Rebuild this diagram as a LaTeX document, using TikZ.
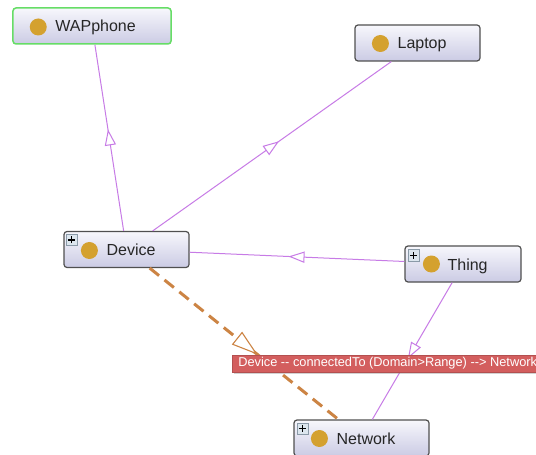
\documentclass[tikz,border=0pt]{standalone}
\usepackage{fontspec}
\setmainfont{Liberation Sans}
\newfontfamily\labfont{Liberation Sans}
\usetikzlibrary{decorations.markings,shadows}
\definecolor{edgepurple}{HTML}{C77BE6}
\definecolor{edgeorange}{HTML}{CC8444}
\definecolor{boxtop}{HTML}{F7F7FC}
\definecolor{boxbot}{HTML}{CBCBE4}
\definecolor{boxline}{HTML}{505050}
\definecolor{gold}{HTML}{D4A12F}
\definecolor{wapgreen}{HTML}{66DD66}
\definecolor{labred}{HTML}{D35E5E}
\definecolor{plusfill}{HTML}{DCE6EE}
\definecolor{plusline}{HTML}{8A9AA8}
\begin{document}
\begin{tikzpicture}[x=1bp,y=-1bp,
  cls/.style={draw=boxline, line width=1.2bp, rounded corners=3bp, top color=boxtop, bottom color=boxbot, inner sep=0pt, minimum height=36bp},
  clstext/.style={anchor=base west, inner sep=0pt, text=black!85, font=\fontsize{16bp}{19bp}\selectfont},
  plusbox/.style={draw=plusline, fill=plusfill, line width=0.8bp, minimum size=11bp, inner sep=0pt},
  plussign/.style={line width=1.3bp, black},
  subedge/.style={draw=edgepurple, line width=1bp, postaction={decorate, decoration={markings, mark=at position 0.5 with {\draw[solid, edgepurple, line width=1bp, fill=white] (-7,-5) -- (7,0) -- (-7,5) -- cycle;}}}},
  propedge/.style={draw=edgeorange, line width=3bp, dash pattern=on 12bp off 7bp, postaction={decorate, decoration={markings, mark=at position 0.5 with {\draw[solid, edgeorange, line width=1.1bp, fill=white] (-8.5,-7.5) -- (15.5,0) -- (-8.5,7.5) -- cycle;}}}},
  proplabel/.style={fill=labred, draw=labred!85!black, line width=0.6bp, text=white, font=\labfont\fontsize{12.8bp}{15bp}\selectfont, anchor=west, minimum height=17bp, inner xsep=6bp, inner ysep=0pt, drop shadow={shadow xshift=2bp, shadow yshift=-2bp, opacity=0.35}}
]
\useasboundingbox (0,0) rectangle (536,455);
\clip (0,0) rectangle (536,455);
\fill[white] (0,0) rectangle (536,455);

% WAPphone
\node[cls, draw=wapgreen, line width=1.5bp, minimum width=158bp] (wap) at (92,26) {};
\fill[gold] ([xshift=26bp,yshift=-1bp]wap.west) circle (8.5bp);
\node[clstext] (wap-t) at ([xshift=43bp,yshift=-6bp]wap.west) {WAPphone};

% Laptop
\node[cls, minimum width=125bp] (laptop) at (417.5,43) {};
\fill[gold] ([xshift=26bp,yshift=-0.5bp]laptop.west) circle (8.5bp);
\node[clstext] (laptop-t) at ([xshift=43bp,yshift=-6bp]laptop.west) {Laptop};

% Device
\node[cls, minimum width=125bp] (device) at (126.5,249.5) {};
\fill[gold] ([xshift=26bp,yshift=-1bp]device.west) circle (8.5bp);
\node[clstext] (device-t) at ([xshift=43bp,yshift=-6bp]device.west) {Device};
\node[plusbox] (device-p) at ([xshift=8bp,yshift=-9bp]device.north west) {};
\draw[plussign] ([xshift=-3.5bp]device-p.center) -- ([xshift=3.5bp]device-p.center);
\draw[plussign] ([yshift=-3.5bp]device-p.center) -- ([yshift=3.5bp]device-p.center);

% Thing
\node[cls, minimum width=116bp] (thing) at (463,264) {};
\fill[gold] ([xshift=27bp]thing.west) circle (8.5bp);
\node[clstext] (thing-t) at ([xshift=43bp,yshift=-6bp]thing.west) {Thing};
\node[plusbox] (thing-p) at ([xshift=9bp,yshift=-10bp]thing.north west) {};
\draw[plussign] ([xshift=-3.5bp]thing-p.center) -- ([xshift=3.5bp]thing-p.center);
\draw[plussign] ([yshift=-3.5bp]thing-p.center) -- ([yshift=3.5bp]thing-p.center);

% Network
\node[cls, minimum width=135bp] (network) at (361.5,438) {};
\fill[gold] ([xshift=26bp,yshift=-0.5bp]network.west) circle (8.5bp);
\node[clstext] (network-t) at ([xshift=43bp,yshift=-6bp]network.west) {Network};
\node[plusbox] (network-p) at ([xshift=9bp,yshift=-9bp]network.north west) {};
\draw[plussign] ([xshift=-3.5bp]network-p.center) -- ([xshift=3.5bp]network-p.center);
\draw[plussign] ([yshift=-3.5bp]network-p.center) -- ([yshift=3.5bp]network-p.center);

% edges
\draw[subedge] (device) -- (wap);
\draw[subedge] (device) -- (laptop);
\draw[subedge] (thing) -- (device);
\draw[subedge] (thing) -- (network);
\draw[propedge] (device) -- (network);

% property label
\node[proplabel] (lab) at (232,363.5) {Device -- connectedTo (Domain>Range) --> Network};
\end{tikzpicture}
\end{document}
